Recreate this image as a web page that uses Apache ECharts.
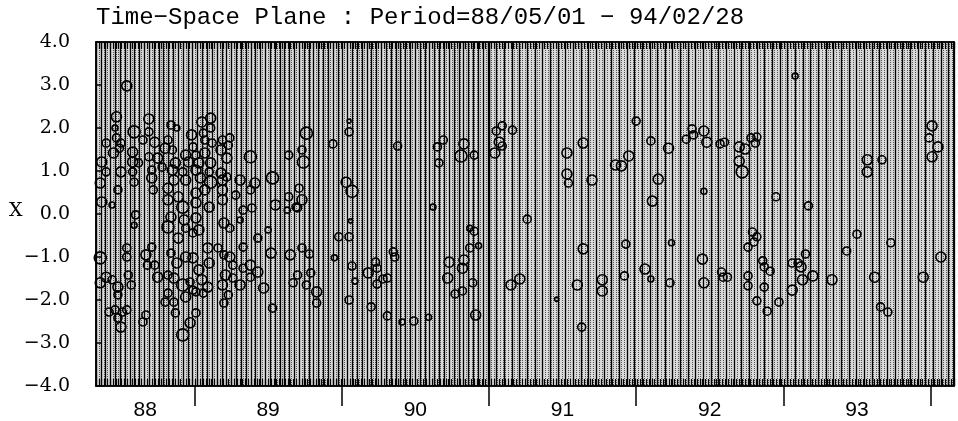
<!DOCTYPE html>
<html><head><meta charset="utf-8">
<script src="https://cdn.jsdelivr.net/npm/echarts@6/dist/echarts.min.js"></script>
<style>html,body{margin:0;padding:0;background:#fff}#c{width:958px;height:421px}</style>
</head><body><div id="c"></div>
<script>
// ---- data (decimal year, X, size class) ----
const titleText = 'Time\u2212Space Plane : Period=88/05/01 \u2212 94/02/28';
const periodStart = 88.331;   // 88/05/01
const periodEnd = 94.159;     // 94/02/28
const yearTicks = [89, 90, 91, 92, 93, 94];
const yearLabelPos = [88.665, 89.5, 90.5, 91.5, 92.5, 93.5];
const yearLabels = ['88', '89', '90', '91', '92', '93'];
const yTickValues = [-4, -3, -2, -1, 0, 1, 2, 3, 4];

const obs1988 = [
 [88.54,2.98,3],[88.47,2.26,3],[88.69,2.21,3],[88.46,2.00,1],[88.59,1.91,4],[88.69,1.91,2],[88.84,2.07,2],[88.88,2.00,1],
 [88.98,1.84,3],[88.40,1.65,2],[88.47,1.77,2],[88.50,1.65,2],[88.49,1.53,2],[88.45,1.42,3],[88.58,1.44,3],[88.65,1.72,2],
 [88.73,1.67,3],[88.82,1.72,2],[88.80,1.53,3],[88.85,1.49,2],[88.99,1.56,2],[88.94,1.37,3],[88.37,1.21,3],[88.58,1.21,3],
 [88.69,1.33,2],[88.62,1.19,2],[88.75,1.30,3],[88.87,1.19,3],[88.78,1.09,2],[88.96,1.21,3],[88.40,0.98,2],[88.50,0.98,3],
 [88.58,0.98,2],[88.71,1.02,2],[88.85,1.02,3],[88.92,0.98,2],[88.36,0.72,3],[88.48,0.56,2],[88.59,0.74,2],[88.71,0.84,3],
 [88.86,0.79,3],[88.94,0.79,3],[88.37,0.28,3],[88.44,0.21,1],[88.72,0.56,2],[88.82,0.60,3],[88.89,0.40,3],[88.60,-0.02,2],
 [88.82,0.33,3],[88.92,0.16,4],[88.59,-0.26,1],[88.82,-0.30,4],[88.84,-0.07,3],[88.93,-0.14,3],[88.99,-0.44,2],[88.89,-0.56,3],
 [88.94,-0.33,2],[88.36,-1.02,4],[88.54,-0.79,2],[88.54,-1.00,2],[88.67,-0.95,3],[88.71,-0.77,2],[88.73,-1.19,2],[88.68,-1.19,2],
 [88.84,-0.91,2],[88.88,-1.14,3],[88.94,-1.00,3],[88.99,-1.02,3],[88.40,-1.47,3],[88.44,-1.53,2],[88.36,-1.60,3],[88.48,-1.70,3],
 [88.48,-1.88,2],[88.55,-1.42,2],[88.57,-1.65,2],[88.75,-1.47,3],[88.82,-1.42,2],[88.86,-1.49,3],[88.92,-1.65,4],[88.97,-1.58,2],
 [88.99,-1.77,2],[88.82,-1.84,2],[88.86,-2.05,2],[88.80,-2.05,2],[88.94,-1.93,3],[88.42,-2.28,2],[88.46,-2.23,2],[88.51,-2.28,2],
 [88.54,-2.23,2],[88.48,-2.42,2],[88.50,-2.63,3],[88.67,-2.35,2],[88.65,-2.51,2],[88.87,-2.30,2],[88.97,-2.53,3],[88.92,-2.81,4]
];
const obs1989 = [
 [89.05,2.14,3],[89.11,2.23,3],[89.11,2.00,2],[89.06,1.88,2],[89.07,1.72,2],[89.12,1.65,2],[89.19,1.72,2],[89.24,1.77,2],
 [89.23,1.60,2],[89.18,1.49,3],[89.07,1.42,3],[89.01,1.37,2],[89.03,1.19,3],[89.11,1.19,3],[89.22,1.30,3],[89.38,1.33,4],
 [89.64,1.37,2],[89.01,1.02,3],[89.10,0.98,2],[89.18,0.95,3],[89.22,0.86,2],[89.04,0.84,3],[89.11,0.74,4],[89.19,0.79,3],
 [89.31,0.79,3],[89.53,0.84,4],[89.41,0.72,3],[89.01,0.49,3],[89.07,0.56,3],[89.19,0.56,3],[89.28,0.44,2],[89.38,0.56,2],
 [89.55,0.21,3],[89.63,0.09,1],[89.01,0.26,3],[89.10,0.16,3],[89.19,0.33,3],[89.33,0.09,2],[89.39,0.14,2],[89.69,0.16,2],
 [89.64,0.40,2],[89.01,-0.09,3],[89.03,-0.37,3],[89.20,-0.21,3],[89.24,-0.33,2],[89.31,-0.14,1],[89.50,-0.37,1],[89.43,-0.56,2],
 [89.03,-1.30,3],[89.10,-1.14,3],[89.09,-0.79,3],[89.16,-0.79,2],[89.20,-0.95,2],[89.24,-1.00,3],[89.33,-0.77,2],[89.26,-1.19,2],
 [89.33,-1.26,2],[89.38,-1.19,3],[89.43,-1.35,3],[89.52,-0.91,3],[89.65,-0.95,3],[89.05,-1.53,3],[89.09,-1.70,3],[89.06,-1.84,2],
 [89.01,-1.81,2],[89.21,-1.42,3],[89.19,-1.65,3],[89.26,-1.49,2],[89.23,-1.88,2],[89.31,-1.65,3],[89.38,-1.47,2],[89.47,-1.72,3],
 [89.67,-1.60,2],[89.53,-2.19,2],[89.01,-2.30,2],[89.20,-2.07,2],[89.76,1.88,4],[89.73,1.49,2],[89.74,1.21,4],[89.71,0.60,2],
 [89.73,0.33,3],[89.70,0.14,2],[89.73,-0.79,2],[89.78,-0.93,2],[89.70,-1.42,2],[89.79,-1.37,2],[89.76,-1.65,2],[89.83,-1.81,3],
 [89.83,-2.07,2],[89.94,1.63,2],[89.95,-1.02,1],[89.98,-0.53,2]
];
const obs1990 = [
 [90.20,-2.16,2],[90.31,-2.37,2],[90.05,1.91,2],[90.05,2.16,0],[90.38,1.58,2],[90.03,0.74,3],[90.07,0.53,4],[90.06,-0.16,0],
 [90.05,-0.53,2],[90.07,-1.21,2],[90.23,-1.12,2],[90.18,-1.37,3],[90.24,-1.26,2],[90.24,-1.63,2],[90.09,-1.56,1],[90.28,-1.51,2],
 [90.31,-1.49,2],[90.35,-0.88,2],[90.36,-1.00,2],[90.05,-2.00,2],[90.62,0.16,1],[90.65,1.56,2],[90.69,1.72,2],[90.66,1.19,2],
 [90.83,1.63,3],[90.81,1.35,4],[90.90,1.37,2],[90.87,-0.33,1],[90.90,-0.40,2],[90.87,-0.79,2],[90.93,-0.74,1],[90.83,-1.07,3],
 [90.73,-1.12,3],[90.82,-1.26,3],[90.72,-1.49,3],[90.89,-1.60,2],[90.77,-1.86,2],[90.82,-1.79,2],[90.41,-2.51,1],[90.49,-2.49,2],
 [90.59,-2.40,1],[90.91,-2.35,3]
];
const obs1991 = [
 [91.04,1.42,3],[91.07,1.67,3],[91.09,1.58,2],[91.05,1.93,2],[91.09,2.05,2],[91.16,1.95,2],[91.53,1.42,3],[91.53,0.93,3],
 [91.54,0.72,2],[91.64,1.65,3],[91.70,0.79,3],[91.86,1.14,3],[91.26,-0.12,2],[91.15,-1.65,3],[91.21,-1.51,3],[91.64,-0.81,3],
 [91.60,-1.65,3],[91.77,-1.53,3],[91.77,-1.79,3],[91.46,-1.98,0],[91.63,-2.63,2],[91.95,1.35,3],[91.90,1.12,3],[91.93,-0.70,2],
 [91.92,-1.44,2]
];
const obs1992 = [
 [92.00,2.16,2],[92.10,1.70,2],[92.22,1.53,3],[92.15,0.81,3],[92.11,0.30,3],[92.38,1.98,2],[92.39,1.84,2],[92.34,1.74,2],
 [92.46,1.93,3],[92.48,1.67,3],[92.57,1.63,2],[92.60,1.67,2],[92.70,1.56,3],[92.74,1.51,3],[92.70,1.23,3],[92.72,0.98,4],
 [92.78,1.77,2],[92.82,1.79,2],[92.81,1.65,2],[92.46,0.53,1],[92.95,0.40,2],[92.24,-0.67,1],[92.79,-0.42,2],[92.82,-0.53,2],
 [92.80,-0.65,2],[92.76,-0.77,2],[92.06,-1.28,3],[92.10,-1.51,1],[92.23,-1.60,2],[92.45,-1.05,3],[92.46,-1.60,3],[92.58,-1.35,2],
 [92.59,-1.47,2],[92.62,-1.47,2],[92.76,-1.44,2],[92.76,-1.67,2],[92.87,-1.70,2],[92.86,-1.09,2],[92.87,-1.23,2],[92.91,-1.33,2],
 [92.82,-2.02,2],[92.89,-2.26,2],[92.97,-2.05,2]
];
const obs1993 = [
 [93.17,0.19,2],[93.57,1.26,3],[93.57,0.98,3],[93.67,1.26,2],[93.99,1.77,2],[93.08,3.21,1],[93.43,-0.86,2],[93.50,-0.47,2],
 [93.73,-0.67,2],[93.06,-1.14,2],[93.10,-1.14,2],[93.12,-1.23,3],[93.15,-0.93,2],[93.13,-1.53,3],[93.20,-1.44,3],[93.06,-1.77,3],
 [93.33,-1.53,3],[93.62,-1.47,3],[93.95,-1.47,3],[93.66,-2.16,2],[93.71,-2.28,2]
];
const obs1994 = [
 [94.01,2.05,3],[94.05,1.56,3],[94.01,1.33,3],[94.07,-1.00,3]
];

// ---- layout ----
const G = {left: 96, right: 4, top: 42, bottom: 35};
const W = 958 - G.left - G.right;
const pxPerYear = W / (periodEnd - periodStart);
const splitYear = 91.0;
const wA = (splitYear - periodStart) * pxPerYear;
const DAY = 1 / 365.25;

const allObs = [].concat(obs1988, obs1989, obs1990, obs1991, obs1992, obs1993, obs1994);
const fmtY = v => (v < 0 ? '\u2212' : '') + Math.abs(v).toFixed(1);

const chart = echarts.init(document.getElementById('c'), null, {renderer: 'canvas'});
const hidden = {axisLine: {show: false, onZero: false}, axisTick: {show: false}, axisLabel: {show: false}};

chart.setOption({
  animation: false,
  backgroundColor: '#fff',
  graphic: [
    {type: 'text', left: 96, top: 6, style: {text: titleText, font: '24px "Liberation Mono"', fill: '#000'}},
    {type: 'text', left: 9, top: 202, style: {text: 'X', font: '19px "DejaVu Serif"', fill: '#000'}}
  ],
  grid: [
    {left: G.left, right: G.right, top: G.top, bottom: G.bottom, show: true, borderColor: '#000', borderWidth: 1.5, backgroundColor: '#d9d9d9'},
    {left: G.left, width: wA, top: G.top, bottom: G.bottom},
    {left: G.left + wA, right: G.right, top: G.top, bottom: G.bottom}
  ],
  xAxis: [
    {type: 'value', gridIndex: 0, min: periodStart, max: periodEnd, position: 'bottom', z: 5,
      axisLine: {show: true, onZero: false, lineStyle: {color: '#000', width: 1.5}},
      axisTick: {show: true, inside: false, length: 20, customValues: yearTicks, lineStyle: {color: '#000', width: 1.5}},
      axisLabel: {show: true, customValues: yearLabelPos, margin: 14, color: '#000',
        fontFamily: 'Liberation Sans', fontSize: 21,
        formatter: v => { const i = yearLabelPos.findIndex(p => Math.abs(p - v) < 1e-6); return i >= 0 ? yearLabels[i] : ''; }},
      splitLine: {show: false}},
    {type: 'value', gridIndex: 0, min: periodStart, max: periodEnd, interval: 7 * DAY, position: 'bottom', z: 5,
      axisLine: {show: false, onZero: false}, axisLabel: {show: false}, splitLine: {show: false},
      axisTick: {show: true, inside: true, length: 7, lineStyle: {color: '#000', width: 1.2}}},
    {type: 'value', gridIndex: 0, min: periodStart, max: periodEnd, interval: 7 * DAY, position: 'top', z: 5,
      axisLine: {show: true, onZero: false, lineStyle: {color: '#000', width: 1.5}}, axisLabel: {show: false}, splitLine: {show: false},
      axisTick: {show: true, inside: true, length: 7, lineStyle: {color: '#000', width: 1.2}}},
    Object.assign({type: 'value', gridIndex: 0, min: periodStart + 3 * DAY, max: periodEnd, interval: 7 * DAY,
      splitLine: {show: true, lineStyle: {color: '#555', width: 1, type: [1, 1]}}}, hidden),
    Object.assign({type: 'value', gridIndex: 1, min: periodStart, max: splitYear, interval: 12 * DAY,
      splitLine: {show: true, lineStyle: {color: '#000', width: 1.3}}}, hidden),
    Object.assign({type: 'value', gridIndex: 2, min: splitYear, max: periodEnd, interval: 19 * DAY,
      splitLine: {show: true, lineStyle: {color: '#000', width: 1.3}}}, hidden)
  ],
  yAxis: [
    {type: 'value', gridIndex: 0, min: -4, max: 4, interval: 1, z: 5,
      axisLine: {show: true, onZero: false, lineStyle: {color: '#000', width: 1.5}},
      axisTick: {show: true, inside: true, length: 6, lineStyle: {color: '#000', width: 1.5}},
      axisLabel: {show: true, margin: 26, color: '#000', fontFamily: 'DejaVu Serif', fontSize: 19, formatter: fmtY},
      splitLine: {show: false}},
    {type: 'value', gridIndex: 0, min: -4, max: 4, position: 'right', z: 5,
      axisLine: {show: true, onZero: false, lineStyle: {color: '#000', width: 1.5}},
      axisTick: {show: false}, axisLabel: {show: false}, splitLine: {show: false}},
    Object.assign({type: 'value', gridIndex: 1, min: -4, max: 4, splitLine: {show: false}}, hidden),
    Object.assign({type: 'value', gridIndex: 2, min: -4, max: 4, splitLine: {show: false}}, hidden)
  ],
  series: [{
    type: 'scatter', xAxisIndex: 0, yAxisIndex: 0, silent: true, z: 10,
    data: allObs,
    symbol: 'circle',
    symbolSize: d => 4 + 2 * d[2],
    itemStyle: {color: 'rgba(255,255,255,0)', borderColor: '#000', borderWidth: 1.6, opacity: 1}
  }]
});
</script>
</body></html>
